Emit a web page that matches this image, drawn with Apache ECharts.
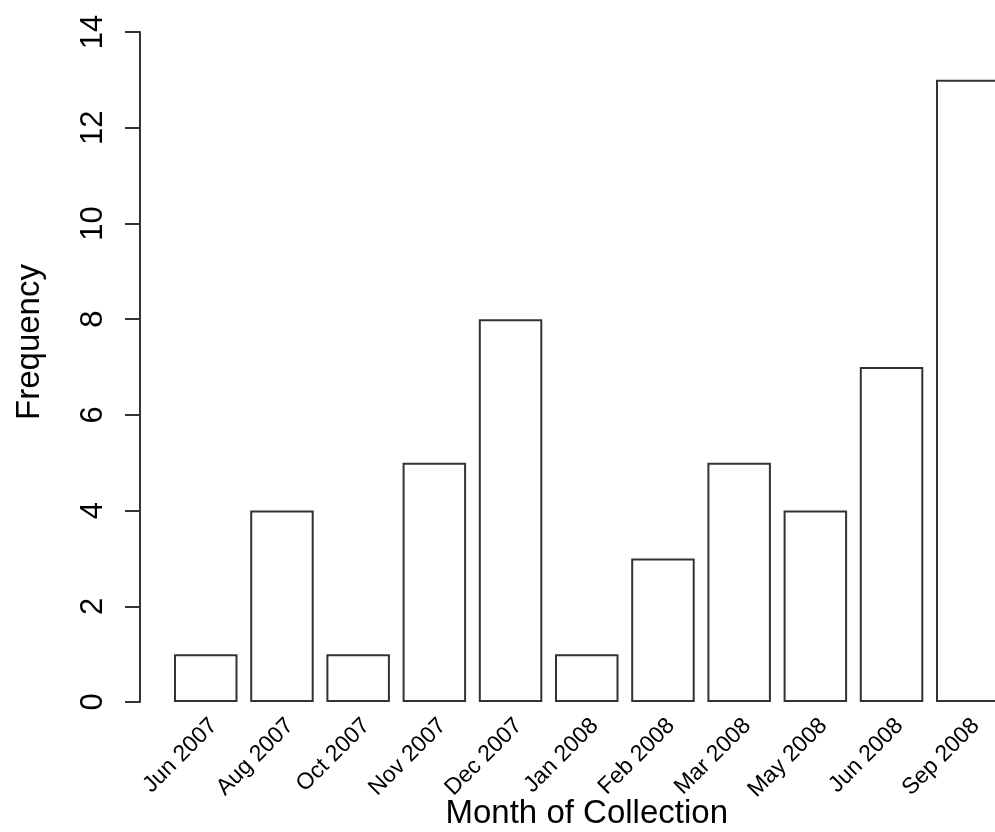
<!DOCTYPE html>
<html>
<head>
<meta charset="utf-8">
<script src="https://cdn.jsdelivr.net/npm/echarts@6/dist/echarts.min.js"></script>
<style>
  html, body { margin: 0; padding: 0; background: #fff; }
  #chart { width: 995px; height: 832px; }
</style>
</head>
<body>
<div id="chart"></div>
<script>
// 数据
var months = ['Jun 2007', 'Aug 2007', 'Oct 2007', 'Nov 2007', 'Dec 2007', 'Jan 2008',
              'Feb 2008', 'Mar 2008', 'May 2008', 'Jun 2008', 'Sep 2008'];
var frequency = [1, 4, 1, 5, 8, 1, 3, 5, 4, 7, 13];
var yTicks = [0, 2, 4, 6, 8, 10, 12, 14];

var chart = echarts.init(document.getElementById('chart'));

const option = {
  animation: false,
  textStyle: { fontFamily: 'Liberation Sans', color: '#000' },
  // 最后一根柱子超出画布右侧, 不让 grid 自动收缩
  grid: { left: 167.65, top: 32, width: 838.2, height: 670, outerBoundsMode: 'none', containLabel: false },
  xAxis: {
    type: 'category',
    data: months,
    name: 'Month of Collection',
    nameLocation: 'middle',
    nameGap: 95,
    nameMoveOverlap: false,
    nameTextStyle: { fontSize: 33, color: '#000', fontFamily: 'Liberation Sans' },
    axisLine: { show: false },
    axisTick: { show: false },
    axisLabel: {
      interval: 0,
      rotate: 45,
      margin: 12,
      align: 'right',
      verticalAlign: 'top',
      fontSize: 23,
      color: '#000',
      fontFamily: 'Liberation Sans'
    }
  },
  yAxis: {
    type: 'value',
    min: yTicks[0],
    max: yTicks[yTicks.length - 1],
    interval: 2,
    offset: 27.65,
    name: 'Frequency',
    nameLocation: 'middle',
    nameRotate: 90,
    nameGap: 94,
    nameMoveOverlap: false,
    nameTextStyle: { fontSize: 33, color: '#000', fontFamily: 'Liberation Sans', padding: [0, 0, 0, 50] },
    splitLine: { show: false },
    axisLine: { show: true, lineStyle: { color: '#333', width: 2 } },
    axisTick: { show: true, length: 15, lineStyle: { color: '#333', width: 2 } },
    axisLabel: {
      rotate: 90,
      margin: 31,
      fontSize: 31,
      color: '#000',
      fontFamily: 'Liberation Sans'
    }
  },
  series: [
    {
      type: 'bar',
      data: frequency,
      barWidth: 63.5,
      itemStyle: { color: '#fff', borderColor: '#333', borderWidth: 2 }
    }
  ]
};

// 渲染
chart.setOption(option);
window.addEventListener('resize', () => {
  chart.resize();
});
</script>
</body>
</html>
